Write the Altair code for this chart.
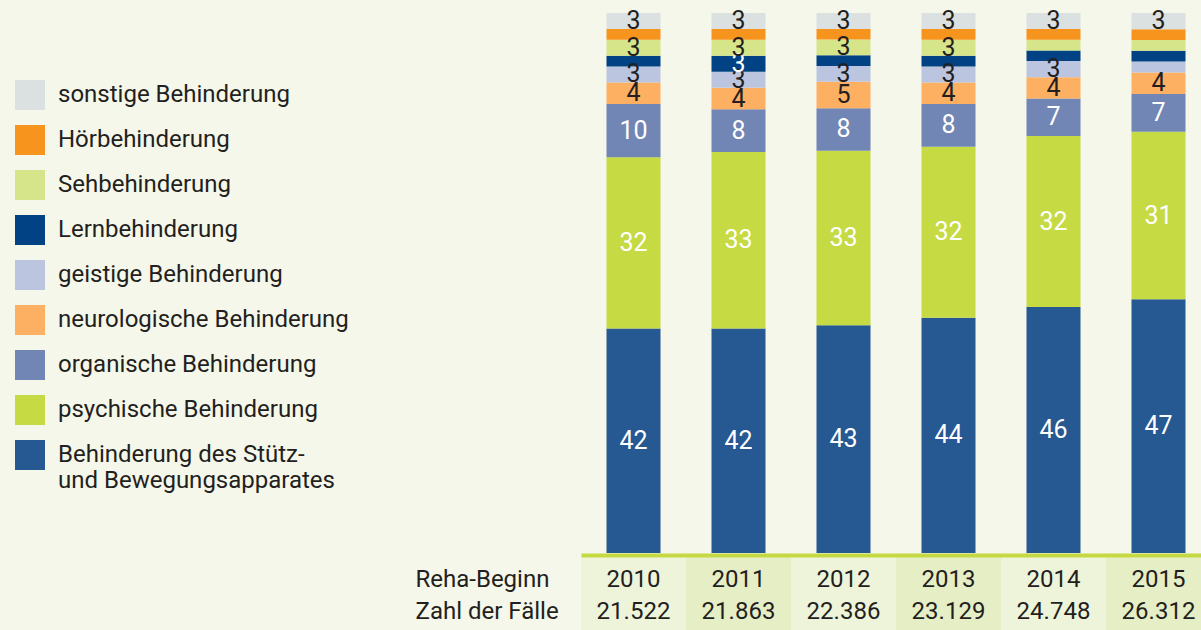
import altair as alt
import pandas as pd

years = ["2010", "2011", "2012", "2013", "2014", "2015"]
cases = [21522, 21863, 22386, 23129, 24748, 26312]

# categories from bottom of the stack to the top
categories = [
    "Behinderung des Stütz- und Bewegungsapparates",
    "psychische Behinderung",
    "organische Behinderung",
    "neurologische Behinderung",
    "geistige Behinderung",
    "Lernbehinderung",
    "Sehbehinderung",
    "Hörbehinderung",
    "sonstige Behinderung",
]
stuetz = [42, 42, 43, 44, 46, 47]
psych = [32, 33, 33, 32, 32, 31]
organ = [10, 8, 8, 8, 7, 7]
neuro = [4, 4, 5, 4, 4, 4]
geist = [3, 3, 3, 3, 3, 2]
lern = [2, 3, 2, 2, 2, 2]
seh = [3, 3, 3, 3, 2, 2]
hoer = [2, 2, 2, 2, 2, 2]
sonst = [3, 3, 3, 3, 3, 3]
series = [stuetz, psych, organ, neuro, geist, lern, seh, hoer, sonst]

colors = ["#265892", "#c6da43", "#7186b5", "#fdb062", "#bcc5df",
          "#004283", "#d6e58a", "#f7941e", "#dbe0e1"]
text_colors = ["#ffffff", "#ffffff", "#ffffff", "#231f20", "#231f20",
               "#ffffff", "#231f20", "#231f20", "#231f20"]
shades = ["#eef4da", "#e6eec6", "#eef4da", "#e6eec6", "#eef4da", "#e6eec6"]

FONT = "Roboto"
INK = "#231f20"

rows = []
for ci, (cat, vals) in enumerate(zip(categories, series)):
    for y, v in zip(years, vals):
        rows.append({"year": y, "category": cat, "value": v, "ord": ci,
                     "tcolor": text_colors[ci]})
df = pd.DataFrame(rows)
bg = pd.DataFrame({"year": years, "shade": shades})

def fmt(n):
    return f"{n:,}".replace(",", ".")

expr = "''"
for y, c in zip(years, cases):
    expr = f"datum.label == '{y}' ? '{fmt(c)}' : ({expr})"
label_expr = f"[datum.label, {expr}]"

long_cat = categories[0]
legend_expr = (f"datum.label == '{long_cat}' ? "
               "['Behinderung des Stütz-', 'und Bewegungsapparates'] : datum.label")

xscale = alt.Scale(domain=years, range=[581, 1211], paddingInner=0, paddingOuter=0)

xaxis = alt.Axis(
    title=["Reha-Beginn", "Zahl der Fälle"], titleX=415, titleY=12,
    titleAlign="left", titleAnchor="start", titleAngle=0, titleBaseline="top",
    titleFontSize=24, titleFontWeight="normal", titleLineHeight=32,
    titleColor=INK, titleFont=FONT,
    labelExpr=label_expr, labelFontSize=24, labelLineHeight=32,
    labelPadding=12, labelBaseline="top", labelAngle=0, labelColor=INK,
    labelFont=FONT, ticks=False, tickSize=0,
    domainColor="#c5d942", domainWidth=4, offset=2, zindex=1,
)

background = alt.Chart(bg).mark_rect().encode(
    x=alt.X("year:N", scale=xscale, axis=xaxis),
    y=alt.value(544),
    y2=alt.value(620),
    color=alt.Color("shade:N", scale=None),
)

stacked = alt.Chart(df).transform_stack(
    stack="value", groupby=["year"], sort=[alt.SortField("ord", order="ascending")],
    as_=["y0", "y1"], offset="normalize",
).transform_calculate(mid="(datum.y0 + datum.y1) / 2")

bars = stacked.mark_bar(width=54).encode(
    x=alt.X("year:N", scale=xscale),
    y=alt.Y("y0:Q", scale=alt.Scale(domain=[0, 1]), axis=None),
    y2="y1:Q",
    color=alt.Color(
        "category:N",
        scale=alt.Scale(domain=categories[::-1], range=colors[::-1]),
        legend=alt.Legend(
            orient="none", legendX=15, legendY=67, title=None,
            symbolType="square", symbolSize=900, symbolStrokeWidth=0,
            symbolOpacity=1, labelFontSize=24, labelFont=FONT, labelColor=INK,
            labelOffset=13, rowPadding=15, labelLimit=0, padding=0,
            labelExpr=legend_expr,
        ),
    ),
)

labels = stacked.transform_filter("datum.value >= 3").mark_text(
    fontSize=25, font=FONT, baseline="middle", align="center"
).encode(
    x=alt.X("year:N", scale=xscale),
    y=alt.Y("mid:Q", scale=alt.Scale(domain=[0, 1])),
    text="value:Q",
    color=alt.Color("tcolor:N", scale=None),
)

chart = alt.layer(background, bars, labels).properties(
    width=1201, height=540,
    autosize=alt.AutoSizeParams(type="none"),
    padding={"left": 0, "top": 13, "right": 0, "bottom": 77},
    background="#f5f7ea",
).configure_view(stroke=None)

chart.save("out.html", embed_options={"renderer": "svg", "actions": False})
